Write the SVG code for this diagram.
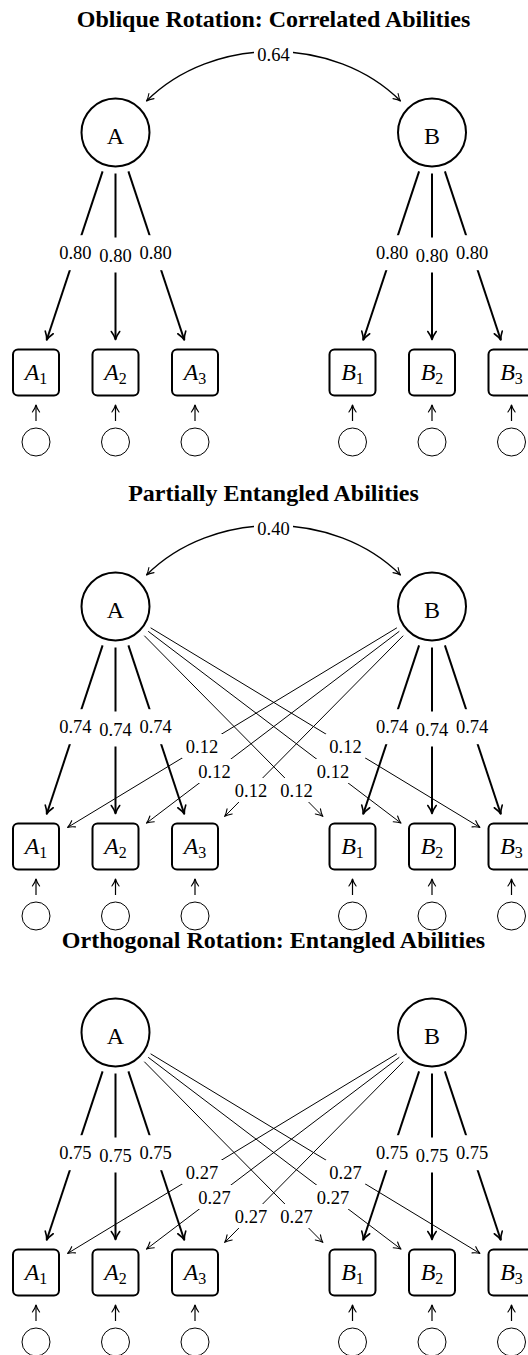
<svg xmlns="http://www.w3.org/2000/svg" width="528" height="1355" viewBox="0 0 528 1355">
<style>
.title{font-family:"Liberation Serif",serif;font-weight:bold;font-size:24px;text-anchor:middle;fill:#000}
.lat{fill:#fff;stroke:#000;stroke-width:2}
.obs{fill:#fff;stroke:#000;stroke-width:2}
.err{fill:#fff;stroke:#000;stroke-width:1}
.nl{font-family:"Liberation Serif",serif;font-size:24px;text-anchor:middle;fill:#000}
.bl{font-family:"Liberation Serif",serif;font-size:24px;text-anchor:middle;fill:#000}
.it{font-style:italic}
.sub{font-size:16px}
.thick{fill:none;stroke:#000;stroke-width:2;marker-end:url(#ahk)}
.thin{fill:none;stroke:#000;stroke-width:1;marker-end:url(#ahn)}
.earr{fill:none;stroke:#000;stroke-width:1.2;marker-end:url(#ahn)}
.arc{fill:none;stroke:#000;stroke-width:1.3;marker-start:url(#ahn);marker-end:url(#ahn)}
.lbl{font-family:"Liberation Serif",serif;font-size:18.5px;text-anchor:middle;fill:#000}
.bg{fill:#fff}
</style>
<defs>
<marker id="ahk" viewBox="-10 -6 12 12" refX="0" refY="0" markerWidth="12" markerHeight="12" markerUnits="userSpaceOnUse" orient="auto-start-reverse">
<path d="M-8,-4.2 C-5,-2 -2,-0.5 0,0 C-2,0.5 -5,2 -8,4.2" fill="none" stroke="#000" stroke-width="1.6" stroke-linecap="round" stroke-linejoin="round"/>
</marker>
<marker id="ahn" viewBox="-10 -6 12 12" refX="0" refY="0" markerWidth="12" markerHeight="12" markerUnits="userSpaceOnUse" orient="auto-start-reverse">
<path d="M-7,-3.6 C-4.5,-1.8 -2,-0.5 0,0 C-2,0.5 -4.5,1.8 -7,3.6" fill="none" stroke="#000" stroke-width="1.1" stroke-linecap="round" stroke-linejoin="round"/>
</marker>
</defs>

<!-- Panel 1 -->
<g id="panel1">
<text class="title" x="273.5" y="27.3">Oblique Rotation: Correlated Abilities</text>
<g id="p1-connectors">
<path class="arc" d="M146.5,101 C212.5,35 334.5,35 400.5,101"/>
<rect class="bg" x="254" y="42" width="39" height="24"/>
<text class="lbl" x="273.5" y="60.5">0.64</text>
<path class="thick" d="M102.6,171.4 L46.7,340"/>
<path class="thick" d="M115.5,173.5 L115.5,339.5"/>
<path class="thick" d="M128.4,171.4 L184.3,340"/>
<path class="thick" d="M419.1,171.4 L363.2,340"/>
<path class="thick" d="M432,173.5 L432,339.5"/>
<path class="thick" d="M444.9,171.4 L500.8,340"/>
<rect class="bg" x="55.4" y="235.2" width="40" height="35"/>
<rect class="bg" x="95.5" y="237.5" width="40" height="35"/>
<rect class="bg" x="135.6" y="235.2" width="40" height="35"/>
<rect class="bg" x="372.1" y="235.2" width="40" height="35"/>
<rect class="bg" x="412" y="237.5" width="40" height="35"/>
<rect class="bg" x="452.1" y="235.2" width="40" height="35"/>
<text class="lbl" x="75.4" y="259.3">0.80</text>
<text class="lbl" x="115.5" y="261.6">0.80</text>
<text class="lbl" x="155.6" y="259.3">0.80</text>
<text class="lbl" x="392.1" y="259.3">0.80</text>
<text class="lbl" x="432" y="261.6">0.80</text>
<text class="lbl" x="472.1" y="259.3">0.80</text>
<path class="earr" d="M36,421 L36,405"/>
<path class="earr" d="M115.5,421 L115.5,405"/>
<path class="earr" d="M195,421 L195,405"/>
<path class="earr" d="M352.5,421 L352.5,405"/>
<path class="earr" d="M432,421 L432,405"/>
<path class="earr" d="M511.5,421 L511.5,405"/>
</g>
<g id="p1-A"><circle class="lat" cx="115.5" cy="132.5" r="34"/><text class="nl" x="115.5" y="144">A</text></g>
<g id="p1-B"><circle class="lat" cx="432" cy="132.5" r="34"/><text class="nl" x="432" y="144">B</text></g>
<g id="p1-A1"><rect class="obs" x="13" y="349.5" width="46" height="46" rx="5"/><text class="bl" x="36" y="379.5"><tspan class="it">A</tspan><tspan class="sub" dy="4">1</tspan></text></g>
<g id="p1-A2"><rect class="obs" x="92.5" y="349.5" width="46" height="46" rx="5"/><text class="bl" x="115.5" y="379.5"><tspan class="it">A</tspan><tspan class="sub" dy="4">2</tspan></text></g>
<g id="p1-A3"><rect class="obs" x="172" y="349.5" width="46" height="46" rx="5"/><text class="bl" x="195" y="379.5"><tspan class="it">A</tspan><tspan class="sub" dy="4">3</tspan></text></g>
<g id="p1-B1"><rect class="obs" x="329.5" y="349.5" width="46" height="46" rx="5"/><text class="bl" x="352.5" y="379.5"><tspan class="it">B</tspan><tspan class="sub" dy="4">1</tspan></text></g>
<g id="p1-B2"><rect class="obs" x="409" y="349.5" width="46" height="46" rx="5"/><text class="bl" x="432" y="379.5"><tspan class="it">B</tspan><tspan class="sub" dy="4">2</tspan></text></g>
<g id="p1-B3"><rect class="obs" x="488.5" y="349.5" width="46" height="46" rx="5"/><text class="bl" x="511.5" y="379.5"><tspan class="it">B</tspan><tspan class="sub" dy="4">3</tspan></text></g>
<g id="p1-eA1"><circle class="err" cx="36" cy="442" r="14"/></g>
<g id="p1-eA2"><circle class="err" cx="115.5" cy="442" r="14"/></g>
<g id="p1-eA3"><circle class="err" cx="195" cy="442" r="14"/></g>
<g id="p1-eB1"><circle class="err" cx="352.5" cy="442" r="14"/></g>
<g id="p1-eB2"><circle class="err" cx="432" cy="442" r="14"/></g>
<g id="p1-eB3"><circle class="err" cx="511.5" cy="442" r="14"/></g>
</g>

<!-- Panel 2 -->
<g id="panel2" transform="translate(0,474)">
<text class="title" x="273.5" y="27.3">Partially Entangled Abilities</text>
<g id="p2-connectors">
<path class="arc" d="M146.5,101 C212.5,35 334.5,35 400.5,101"/>
<rect class="bg" x="254" y="42" width="39" height="24"/>
<text class="lbl" x="273.5" y="60.5">0.40</text>
<path class="thin" d="M144.3,161.7 L322.8,342.4"/>
<path class="thin" d="M148.2,157.3 L401,349.1"/>
<path class="thin" d="M150.6,153.8 L479.9,353.4"/>
<path class="thin" d="M403.2,161.7 L224.7,342.4"/>
<path class="thin" d="M399.3,157.3 L146.5,349.1"/>
<path class="thin" d="M396.9,153.8 L67.6,353.4"/>
<path class="thick" d="M102.6,171.4 L46.7,340"/>
<path class="thick" d="M115.5,173.5 L115.5,339.5"/>
<path class="thick" d="M128.4,171.4 L184.3,340"/>
<path class="thick" d="M419.1,171.4 L363.2,340"/>
<path class="thick" d="M432,173.5 L432,339.5"/>
<path class="thick" d="M444.9,171.4 L500.8,340"/>
<rect class="bg" x="55.4" y="235.2" width="40" height="35"/>
<rect class="bg" x="95.5" y="237.5" width="40" height="35"/>
<rect class="bg" x="135.6" y="235.2" width="40" height="35"/>
<rect class="bg" x="372.1" y="235.2" width="40" height="35"/>
<rect class="bg" x="412" y="237.5" width="40" height="35"/>
<rect class="bg" x="452.1" y="235.2" width="40" height="35"/>
<text class="lbl" x="75.4" y="259.3">0.74</text>
<text class="lbl" x="115.5" y="261.6">0.74</text>
<text class="lbl" x="155.6" y="259.3">0.74</text>
<text class="lbl" x="392.1" y="259.3">0.74</text>
<text class="lbl" x="432" y="261.6">0.74</text>
<text class="lbl" x="472.1" y="259.3">0.74</text>
<rect class="bg" x="182" y="260" width="40" height="24"/>
<rect class="bg" x="194.5" y="285" width="40" height="24"/>
<rect class="bg" x="231" y="304" width="40" height="24"/>
<rect class="bg" x="276.5" y="304" width="40" height="24"/>
<rect class="bg" x="313" y="285" width="40" height="24"/>
<rect class="bg" x="325.5" y="260" width="40" height="24"/>
<text class="lbl" x="202" y="278.6">0.12</text>
<text class="lbl" x="214.5" y="303.6">0.12</text>
<text class="lbl" x="251" y="322.6">0.12</text>
<text class="lbl" x="296.5" y="322.6">0.12</text>
<text class="lbl" x="333" y="303.6">0.12</text>
<text class="lbl" x="345.5" y="278.6">0.12</text>
<path class="earr" d="M36,421 L36,405"/>
<path class="earr" d="M115.5,421 L115.5,405"/>
<path class="earr" d="M195,421 L195,405"/>
<path class="earr" d="M352.5,421 L352.5,405"/>
<path class="earr" d="M432,421 L432,405"/>
<path class="earr" d="M511.5,421 L511.5,405"/>
</g>
<g id="p2-A"><circle class="lat" cx="115.5" cy="132.5" r="34"/><text class="nl" x="115.5" y="144">A</text></g>
<g id="p2-B"><circle class="lat" cx="432" cy="132.5" r="34"/><text class="nl" x="432" y="144">B</text></g>
<g id="p2-A1"><rect class="obs" x="13" y="349.5" width="46" height="46" rx="5"/><text class="bl" x="36" y="379.5"><tspan class="it">A</tspan><tspan class="sub" dy="4">1</tspan></text></g>
<g id="p2-A2"><rect class="obs" x="92.5" y="349.5" width="46" height="46" rx="5"/><text class="bl" x="115.5" y="379.5"><tspan class="it">A</tspan><tspan class="sub" dy="4">2</tspan></text></g>
<g id="p2-A3"><rect class="obs" x="172" y="349.5" width="46" height="46" rx="5"/><text class="bl" x="195" y="379.5"><tspan class="it">A</tspan><tspan class="sub" dy="4">3</tspan></text></g>
<g id="p2-B1"><rect class="obs" x="329.5" y="349.5" width="46" height="46" rx="5"/><text class="bl" x="352.5" y="379.5"><tspan class="it">B</tspan><tspan class="sub" dy="4">1</tspan></text></g>
<g id="p2-B2"><rect class="obs" x="409" y="349.5" width="46" height="46" rx="5"/><text class="bl" x="432" y="379.5"><tspan class="it">B</tspan><tspan class="sub" dy="4">2</tspan></text></g>
<g id="p2-B3"><rect class="obs" x="488.5" y="349.5" width="46" height="46" rx="5"/><text class="bl" x="511.5" y="379.5"><tspan class="it">B</tspan><tspan class="sub" dy="4">3</tspan></text></g>
<g id="p2-eA1"><circle class="err" cx="36" cy="442" r="14"/></g>
<g id="p2-eA2"><circle class="err" cx="115.5" cy="442" r="14"/></g>
<g id="p2-eA3"><circle class="err" cx="195" cy="442" r="14"/></g>
<g id="p2-eB1"><circle class="err" cx="352.5" cy="442" r="14"/></g>
<g id="p2-eB2"><circle class="err" cx="432" cy="442" r="14"/></g>
<g id="p2-eB3"><circle class="err" cx="511.5" cy="442" r="14"/></g>
</g>

<!-- Panel 3 -->
<g id="panel3" transform="translate(0,900)">
<text class="title" x="273.5" y="48">Orthogonal Rotation: Entangled Abilities</text>
<g id="p3-connectors">
<path class="thin" d="M144.3,161.7 L322.8,342.4"/>
<path class="thin" d="M148.2,157.3 L401,349.1"/>
<path class="thin" d="M150.6,153.8 L479.9,353.4"/>
<path class="thin" d="M403.2,161.7 L224.7,342.4"/>
<path class="thin" d="M399.3,157.3 L146.5,349.1"/>
<path class="thin" d="M396.9,153.8 L67.6,353.4"/>
<path class="thick" d="M102.6,171.4 L46.7,340"/>
<path class="thick" d="M115.5,173.5 L115.5,339.5"/>
<path class="thick" d="M128.4,171.4 L184.3,340"/>
<path class="thick" d="M419.1,171.4 L363.2,340"/>
<path class="thick" d="M432,173.5 L432,339.5"/>
<path class="thick" d="M444.9,171.4 L500.8,340"/>
<rect class="bg" x="55.4" y="235.2" width="40" height="35"/>
<rect class="bg" x="95.5" y="237.5" width="40" height="35"/>
<rect class="bg" x="135.6" y="235.2" width="40" height="35"/>
<rect class="bg" x="372.1" y="235.2" width="40" height="35"/>
<rect class="bg" x="412" y="237.5" width="40" height="35"/>
<rect class="bg" x="452.1" y="235.2" width="40" height="35"/>
<text class="lbl" x="75.4" y="259.3">0.75</text>
<text class="lbl" x="115.5" y="261.6">0.75</text>
<text class="lbl" x="155.6" y="259.3">0.75</text>
<text class="lbl" x="392.1" y="259.3">0.75</text>
<text class="lbl" x="432" y="261.6">0.75</text>
<text class="lbl" x="472.1" y="259.3">0.75</text>
<rect class="bg" x="182" y="260" width="40" height="24"/>
<rect class="bg" x="194.5" y="285" width="40" height="24"/>
<rect class="bg" x="231" y="304" width="40" height="24"/>
<rect class="bg" x="276.5" y="304" width="40" height="24"/>
<rect class="bg" x="313" y="285" width="40" height="24"/>
<rect class="bg" x="325.5" y="260" width="40" height="24"/>
<text class="lbl" x="202" y="278.6">0.27</text>
<text class="lbl" x="214.5" y="303.6">0.27</text>
<text class="lbl" x="251" y="322.6">0.27</text>
<text class="lbl" x="296.5" y="322.6">0.27</text>
<text class="lbl" x="333" y="303.6">0.27</text>
<text class="lbl" x="345.5" y="278.6">0.27</text>
<path class="earr" d="M36,421 L36,405"/>
<path class="earr" d="M115.5,421 L115.5,405"/>
<path class="earr" d="M195,421 L195,405"/>
<path class="earr" d="M352.5,421 L352.5,405"/>
<path class="earr" d="M432,421 L432,405"/>
<path class="earr" d="M511.5,421 L511.5,405"/>
</g>
<g id="p3-A"><circle class="lat" cx="115.5" cy="132.5" r="34"/><text class="nl" x="115.5" y="144">A</text></g>
<g id="p3-B"><circle class="lat" cx="432" cy="132.5" r="34"/><text class="nl" x="432" y="144">B</text></g>
<g id="p3-A1"><rect class="obs" x="13" y="349.5" width="46" height="46" rx="5"/><text class="bl" x="36" y="379.5"><tspan class="it">A</tspan><tspan class="sub" dy="4">1</tspan></text></g>
<g id="p3-A2"><rect class="obs" x="92.5" y="349.5" width="46" height="46" rx="5"/><text class="bl" x="115.5" y="379.5"><tspan class="it">A</tspan><tspan class="sub" dy="4">2</tspan></text></g>
<g id="p3-A3"><rect class="obs" x="172" y="349.5" width="46" height="46" rx="5"/><text class="bl" x="195" y="379.5"><tspan class="it">A</tspan><tspan class="sub" dy="4">3</tspan></text></g>
<g id="p3-B1"><rect class="obs" x="329.5" y="349.5" width="46" height="46" rx="5"/><text class="bl" x="352.5" y="379.5"><tspan class="it">B</tspan><tspan class="sub" dy="4">1</tspan></text></g>
<g id="p3-B2"><rect class="obs" x="409" y="349.5" width="46" height="46" rx="5"/><text class="bl" x="432" y="379.5"><tspan class="it">B</tspan><tspan class="sub" dy="4">2</tspan></text></g>
<g id="p3-B3"><rect class="obs" x="488.5" y="349.5" width="46" height="46" rx="5"/><text class="bl" x="511.5" y="379.5"><tspan class="it">B</tspan><tspan class="sub" dy="4">3</tspan></text></g>
<g id="p3-eA1"><circle class="err" cx="36" cy="442" r="14"/></g>
<g id="p3-eA2"><circle class="err" cx="115.5" cy="442" r="14"/></g>
<g id="p3-eA3"><circle class="err" cx="195" cy="442" r="14"/></g>
<g id="p3-eB1"><circle class="err" cx="352.5" cy="442" r="14"/></g>
<g id="p3-eB2"><circle class="err" cx="432" cy="442" r="14"/></g>
<g id="p3-eB3"><circle class="err" cx="511.5" cy="442" r="14"/></g>
</g>
</svg>
